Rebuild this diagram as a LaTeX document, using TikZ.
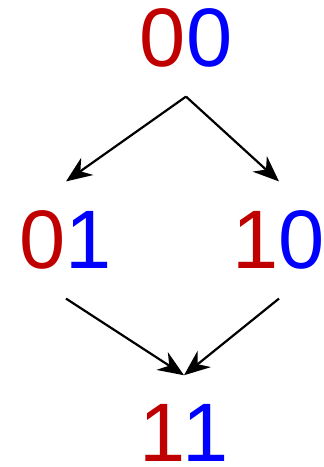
\documentclass[tikz,border=0pt]{standalone}
\usepackage{fontspec}
\setmainfont{Liberation Sans}
\usetikzlibrary{arrows.meta}
\definecolor{bitred}{HTML}{C00000}
\definecolor{bitblue}{HTML}{0000FF}
\newcommand{\bits}[3][0pt]{\textcolor{bitred}{#2}\kern#1\textcolor{bitblue}{#3}}
\tikzset{
  state/.style={font=\fontsize{83}{83}\selectfont, inner xsep=0pt, inner ysep=29pt},
  flow/.style={-{Stealth[length=26pt, width=21pt]}, line width=2.2pt}
}
\begin{document}
\begin{tikzpicture}[x=1pt, y=1pt]
        \useasboundingbox (0,0) rectangle (324,-467);
        \node[state] (s00) at (186,-38) {\bits{0}{0}};
        \node[state] (s01) at (66,-240) {\bits{0}{1}};
        \node[state] (s10) at (279,-240) {\bits{1}{0}};
        \node[state] (s11) at (184,-433) {\bits[-3pt]{1}{1}};
        \draw[flow] (s00.south) -- (s01.north);
        \draw[flow] (s00.south) -- (s10.north);
        \draw[flow] (s01.south) -- (s11.north);
        \draw[flow] (s10.south) -- (s11.north);
    \end{tikzpicture}
\end{document}
